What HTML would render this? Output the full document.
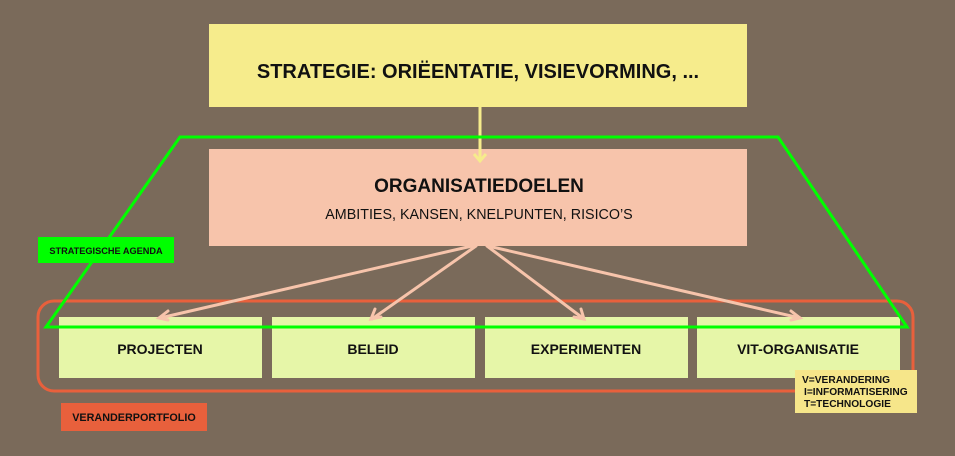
<!DOCTYPE html>
<html><head><meta charset="utf-8"><style>
html,body{margin:0;padding:0;background:#7a6a5a;}
svg{display:block}
text{font-family:"Liberation Sans",sans-serif;font-weight:bold;fill:#111}
</style></head><body>
<svg width="955" height="456" viewBox="0 0 955 456" xmlns="http://www.w3.org/2000/svg">
<rect width="955" height="456" fill="#7a6a5a"/>
<rect x="209" y="24" width="538" height="83" fill="#f6ec8c"/>
<text x="478" y="78" text-anchor="middle" font-size="20">STRATEGIE: ORIËENTATIE, VISIEVORMING, ...</text>
<rect x="38" y="301" width="875" height="90" rx="16" fill="none" stroke="#e8603c" stroke-width="3"/>
<rect x="209" y="149" width="538" height="97" fill="#f7c4ab"/>
<text x="479" y="192" text-anchor="middle" font-size="19">ORGANISATIEDOELEN</text>
<text x="479" y="219" text-anchor="middle" font-size="14.3" style="font-weight:normal">AMBITIES, KANSEN, KNELPUNTEN, RISICO’S</text>
<line x1="480" y1="107" x2="480" y2="160" stroke="#f6ec8c" stroke-width="3"/>
<polyline points="474,154 480,161 486,154" fill="none" stroke="#f6ec8c" stroke-width="3"/>
<rect x="59" y="317" width="203" height="61" fill="#e6f6a8"/>
<rect x="272" y="317" width="203" height="61" fill="#e6f6a8"/>
<rect x="485" y="317" width="203" height="61" fill="#e6f6a8"/>
<rect x="697" y="317" width="203" height="61" fill="#e6f6a8"/>
<text x="160" y="354" text-anchor="middle" font-size="14">PROJECTEN</text>
<text x="373" y="354" text-anchor="middle" font-size="14">BELEID</text>
<text x="586" y="354" text-anchor="middle" font-size="14">EXPERIMENTEN</text>
<text x="798" y="354" text-anchor="middle" font-size="14">VIT-ORGANISATIE</text>
<g stroke="#f7c4ab" stroke-width="3" fill="none" stroke-linecap="round">
<line x1="472" y1="246" x2="160" y2="318"/>
<polyline points="168,311 159,318 168,320"/>
<line x1="476" y1="246" x2="372" y2="319"/>
<polyline points="375,309 371,319 381,317"/>
<line x1="487" y1="246" x2="584" y2="319"/>
<polyline points="574,317 584,319 581,309"/>
<line x1="488" y1="246" x2="800" y2="318"/>
<polyline points="791,311 800,318 791,320"/>
</g>
<polygon points="180,137 778,137 907,327 46,327" fill="none" stroke="#00ff00" stroke-width="3"/>
<rect x="38" y="237" width="136" height="26" fill="#00ff00"/>
<text x="106" y="254" text-anchor="middle" font-size="9.2">STRATEGISCHE AGENDA</text>
<rect x="61" y="403" width="146" height="28" fill="#e8603c"/>
<text x="134" y="421" text-anchor="middle" font-size="10.8">VERANDERPORTFOLIO</text>
<rect x="795" y="370" width="122" height="43" fill="#f6e68a"/>
<text x="802" y="383" font-size="10.2">V=VERANDERING</text>
<text x="804" y="395" font-size="10.2">I=INFORMATISERING</text>
<text x="804" y="407" font-size="10.2">T=TECHNOLOGIE</text>
</svg>
</body></html>
